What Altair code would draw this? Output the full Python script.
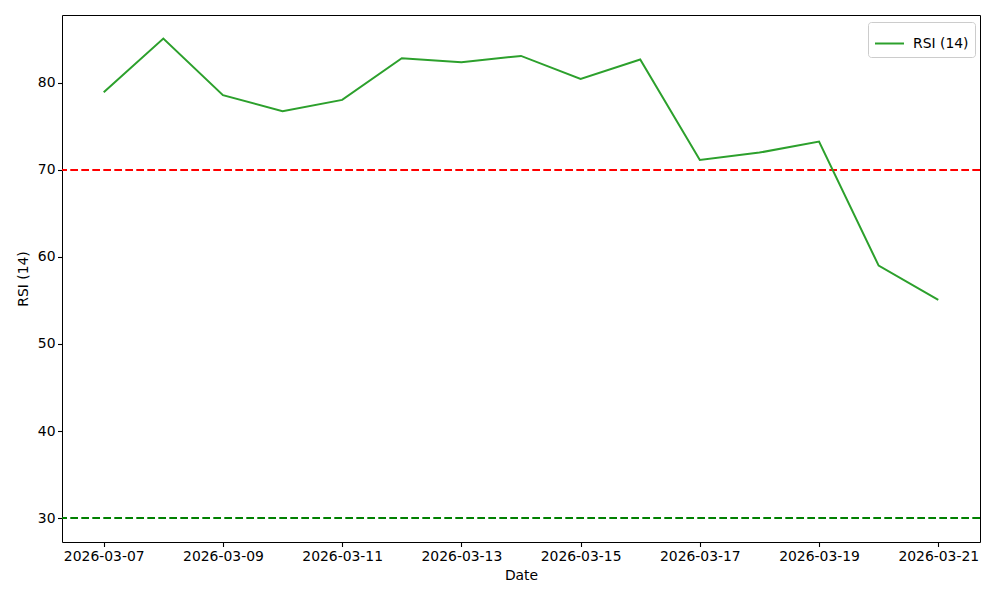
import altair as alt
import pandas as pd

dates = ["2026-03-07", "2026-03-08", "2026-03-09", "2026-03-10", "2026-03-11",
         "2026-03-12", "2026-03-13", "2026-03-14", "2026-03-15", "2026-03-16",
         "2026-03-17", "2026-03-18", "2026-03-19", "2026-03-20", "2026-03-21"]
rsi = [78.93, 85.09, 78.59, 76.75, 78.05, 82.84, 82.38, 83.10, 80.46, 82.68,
       71.15, 71.99, 73.25, 59.0, 55.06]
series_name = "RSI (14)"
thresholds = [70, 30]
threshold_colors = ["#ff0000", "#008000"]
tick_dates = ["2026-03-07", "2026-03-09", "2026-03-11", "2026-03-13",
              "2026-03-15", "2026-03-17", "2026-03-19", "2026-03-21"]

df = pd.DataFrame({"date": dates, "rsi": rsi, "series": series_name})
thr = pd.DataFrame({"level": thresholds, "color": threshold_colors})

FONT = "DejaVu Sans"
FS = 13.9
LW = 2.0

def dt(s, h=0, mi=0):
    y, m, d = map(int, s.split("-"))
    return alt.DateTime(year=y, month=m, date=d, hours=h, minutes=mi, utc=True)

x_scale = alt.Scale(type="utc", domain=[dt("2026-03-06", 7, 12), dt("2026-03-21", 16, 48)])
y_scale = alt.Scale(domain=[27.25, 87.8], nice=False, zero=False)

x_axis = alt.Axis(values=[dt(s) for s in tick_dates],
                  labelExpr="utcFormat(datum.value, '%Y-%m-%d')",
                  title="Date", grid=False, domain=False,
                  tickColor="black", tickSize=4.5, tickWidth=1.1,
                  labelPadding=2.5, labelFontSize=FS, labelFont=FONT, labelColor="black",
                  titleFont=FONT, titleFontSize=FS, titleFontWeight="normal",
                  titleColor="black", titlePadding=6, labelFlush=False, labelOverlap=False)
y_axis = alt.Axis(values=[30, 40, 50, 60, 70, 80], title=series_name, grid=False,
                  domain=False, tickColor="black", tickSize=4.5, tickWidth=1.1,
                  labelPadding=2.5, labelFontSize=FS, labelFont=FONT, labelColor="black",
                  titleFont=FONT, titleFontSize=FS, titleFontWeight="normal",
                  titleColor="black", titlePadding=7)

line = alt.Chart(df).mark_line(strokeWidth=LW).encode(
    x=alt.X("date:T", scale=x_scale, axis=x_axis),
    y=alt.Y("rsi:Q", scale=y_scale, axis=y_axis),
    color=alt.Color("series:N",
                    scale=alt.Scale(domain=[series_name], range=["#2ca02c"]),
                    legend=alt.Legend(title=None, orient="none", legendX=806, legendY=7,
                                      symbolType="stroke", symbolSize=840,
                                      symbolStrokeWidth=LW, labelFontSize=FS,
                                      labelFont=FONT, labelColor="black",
                                      padding=6, strokeColor="#cccccc",
                                      fillColor="white", cornerRadius=3,
                                      labelOffset=8)),
)

rules = alt.Chart(thr).mark_rule(strokeWidth=LW, strokeDash=[7.7, 3.3]).encode(
    y=alt.Y("level:Q", scale=y_scale),
    color=alt.Color("color:N", scale=None),
)

chart = alt.layer(rules, line).properties(
    width=918, height=527,
    padding={"left": 54, "top": 7, "right": 12, "bottom": 50},
    autosize=alt.AutoSizeParams(type="none"),
    background="white",
).configure_view(stroke="black", strokeWidth=1)

chart.save("out.html", embed_options={"renderer": "svg", "actions": False})
